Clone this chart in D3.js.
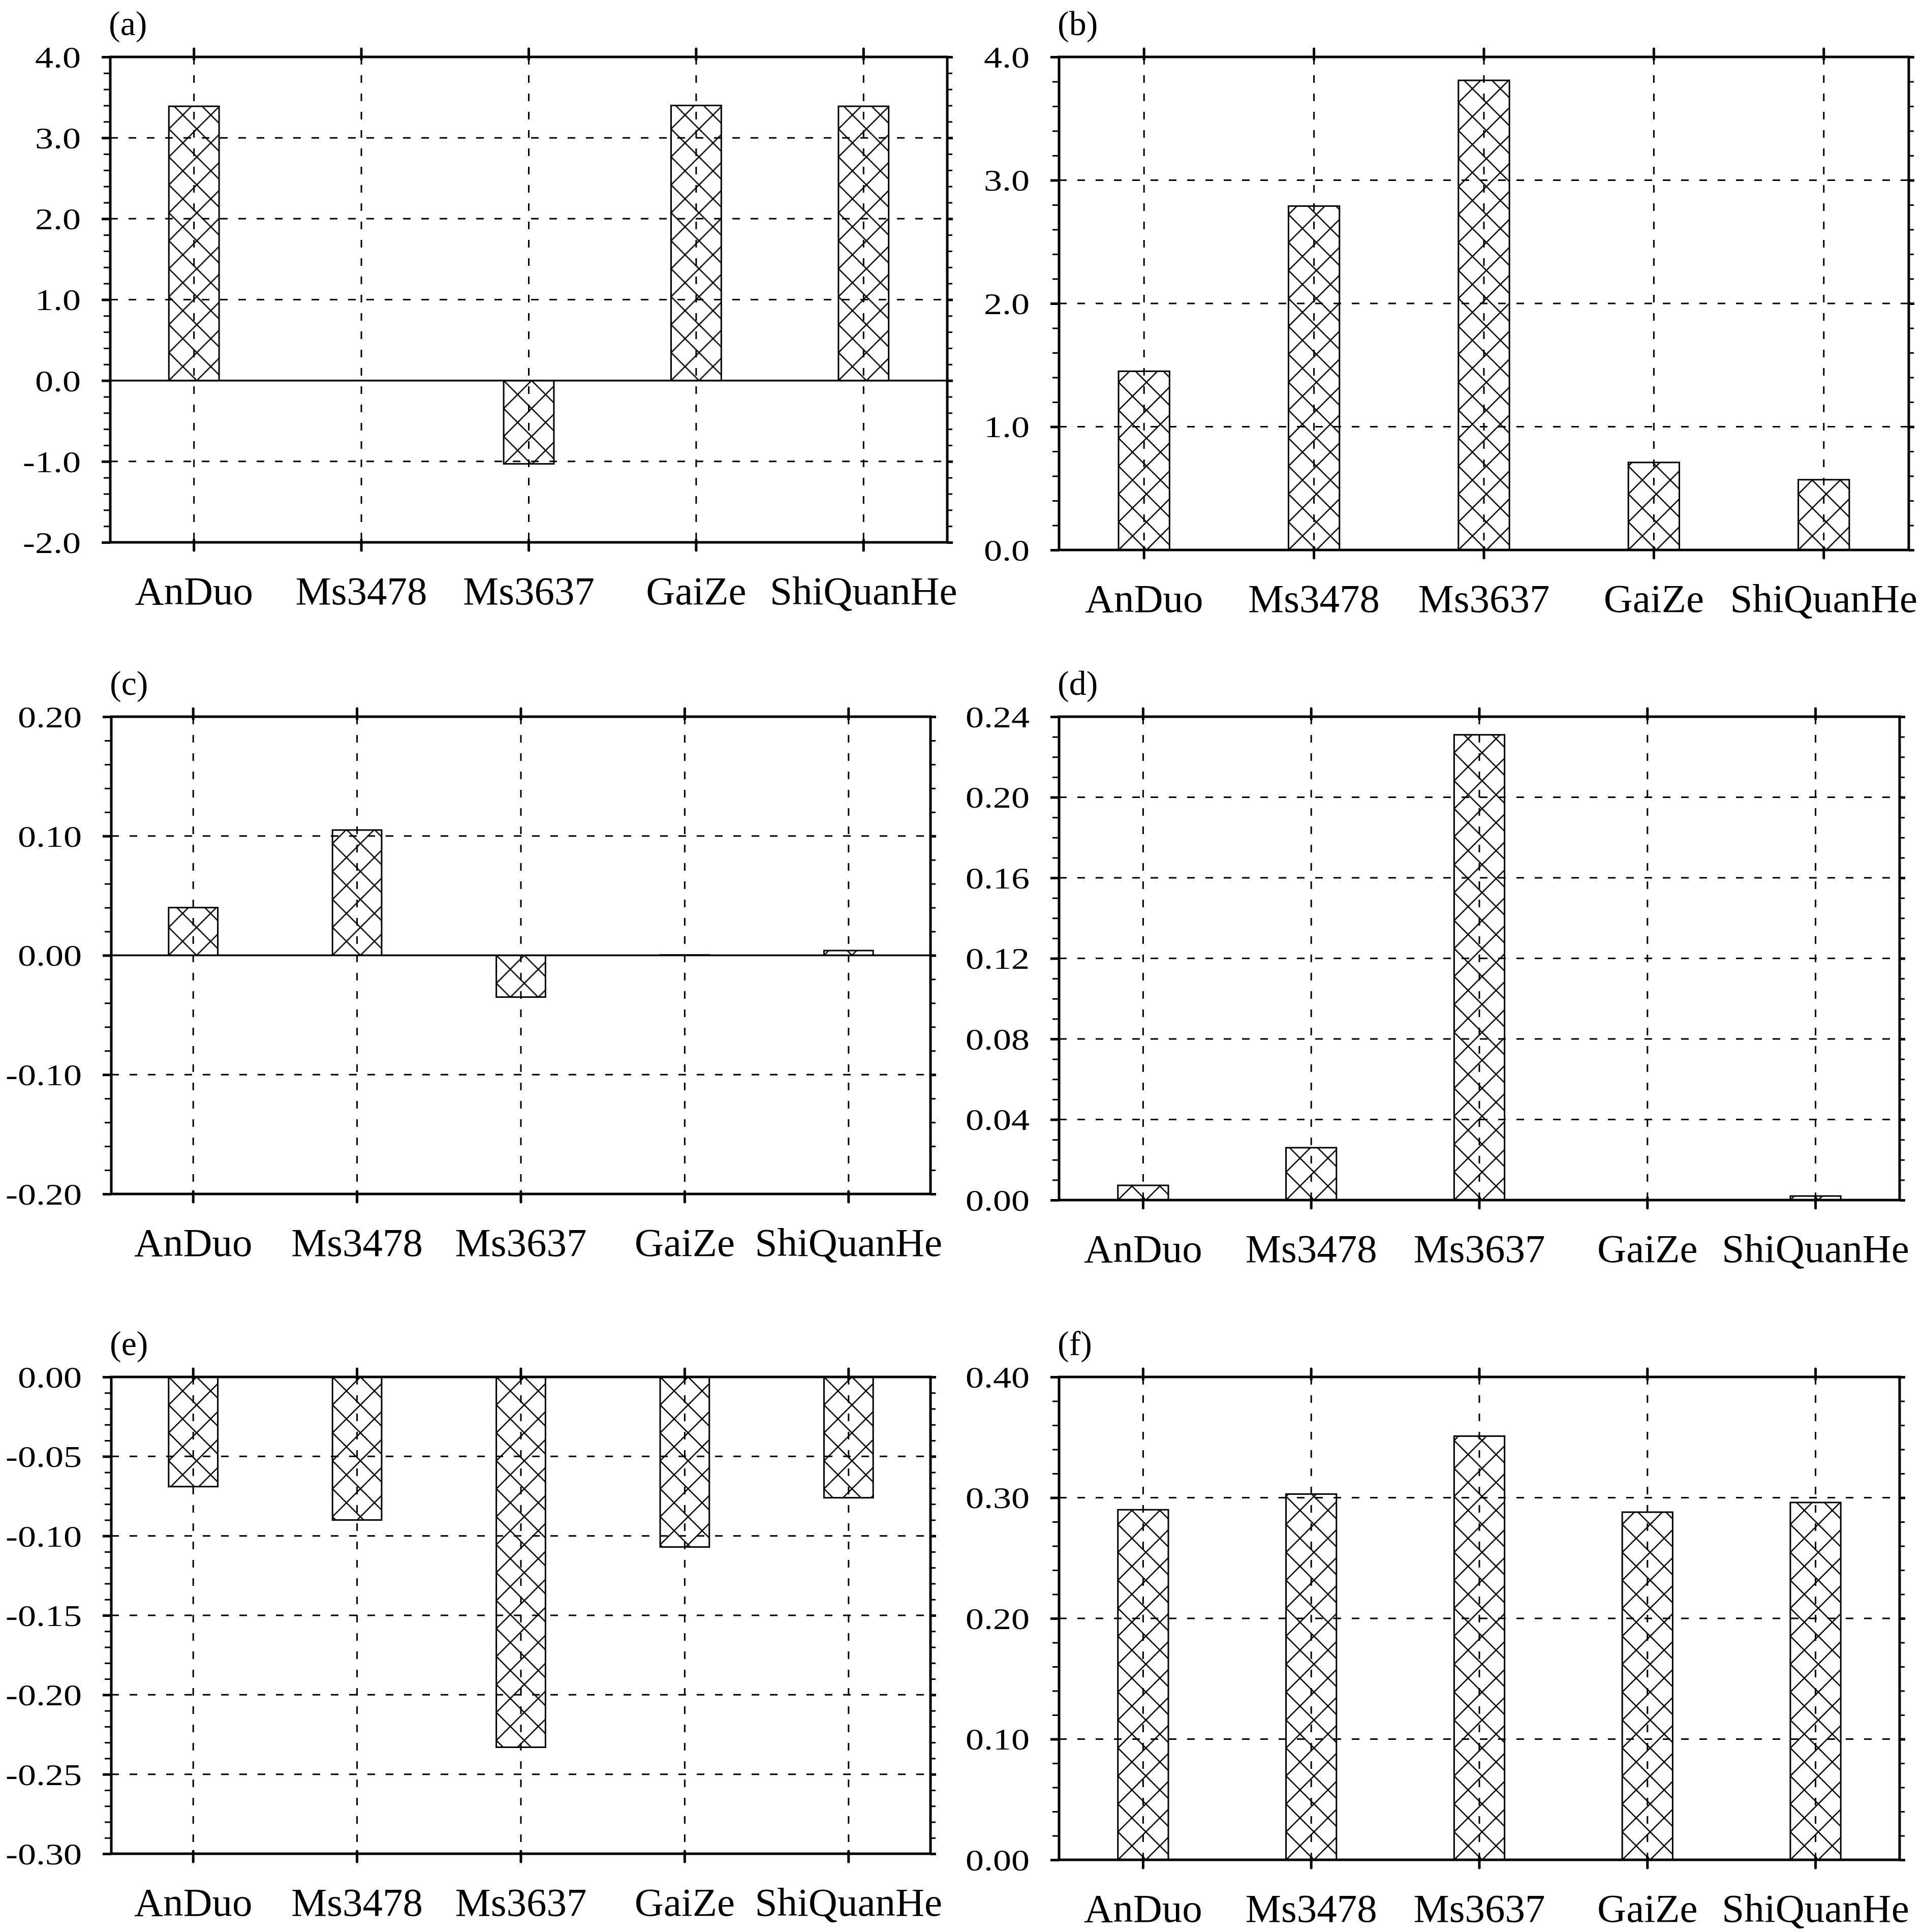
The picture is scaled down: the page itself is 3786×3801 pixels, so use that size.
<!DOCTYPE html>
<html>
<head>
<meta charset="utf-8">
<script src="https://cdn.jsdelivr.net/npm/d3@7"></script>
<style>
  html, body { margin: 0; padding: 0; background: #fff; }
  text { font-family: "Liberation Serif", "Times New Roman", serif; fill: #000; }
</style>
</head>
<body>
<div id="chart"></div>
<script>
// Stations along every x axis
const categories = ["AnDuo", "Ms3478", "Ms3637", "GaiZe", "ShiQuanHe"];

// Bar values
const valuesA = [3.39, 0, -1.03, 3.40, 3.39];
const valuesB = [1.45, 2.79, 3.81, 0.71, 0.57];
const valuesC = [0.040, 0.105, -0.035, 0.0003, 0.004];
const valuesD = [0.0073, 0.026, 0.231, 0, 0.002];
const valuesE = [-0.069, -0.090, -0.233, -0.107, -0.076];
const valuesF = [0.290, 0.303, 0.351, 0.288, 0.296];

// Major y ticks (labelled) per panel
const ticksA = [-2, -1, 0, 1, 2, 3, 4];
const ticksB = [0, 1, 2, 3, 4];
const ticksC = [-0.2, -0.1, 0, 0.1, 0.2];
const ticksD = [0, 0.04, 0.08, 0.12, 0.16, 0.2, 0.24];
const ticksE = [-0.3, -0.25, -0.2, -0.15, -0.1, -0.05, 0];
const ticksF = [0, 0.1, 0.2, 0.3, 0.4];

// Minor tick spacing per panel
const minorA = 0.2, minorB = 0.2, minorC = 0.02, minorD = 0.01, minorE = 0.01, minorF = 0.02;

const panelLabels = ["(a)", "(b)", "(c)", "(d)", "(e)", "(f)"];

const W = 3786, H = 3801;

// hyphen minus like the original, not the unicode minus
const locale = d3.formatLocale({ decimal: ".", thousands: ",", grouping: [3], currency: ["", ""], minus: "-" });

// Panel frames in pixels
const panels = [
    { label: panelLabels[0], values: valuesA, ticks: ticksA, minor: minorA, fmt: ".1f", x0: 217, x1: 1864, y0: 112, y1: 1067 },
    { label: panelLabels[1], values: valuesB, ticks: ticksB, minor: minorB, fmt: ".1f", x0: 2084, x1: 3756, y0: 112, y1: 1082 },
    { label: panelLabels[2], values: valuesC, ticks: ticksC, minor: minorC, fmt: ".2f", x0: 219, x1: 1831, y0: 1410, y1: 2349 },
    { label: panelLabels[3], values: valuesD, ticks: ticksD, minor: minorD, fmt: ".2f", x0: 2084, x1: 3738, y0: 1410, y1: 2361 },
    { label: panelLabels[4], values: valuesE, ticks: ticksE, minor: minorE, fmt: ".2f", x0: 219, x1: 1831, y0: 2709, y1: 3647 },
    { label: panelLabels[5], values: valuesF, ticks: ticksF, minor: minorF, fmt: ".2f", x0: 2084, x1: 3738, y0: 2709, y1: 3659 }
];

let svg = d3.select("#chart")
    .append("svg")
    .attr("width", W)
    .attr("height", H)
    .attr("viewBox", `0 0 ${W} ${H}`);

svg.append("rect").attr("width", W).attr("height", H).attr("fill", "#fff");

let defs = svg.append("defs");

const hatch = 55;
const dash = "15,21";

panels.forEach((p, pi) => drawPanel(p, pi));

function drawPanel(p, pi) {
    let lo = d3.min(p.ticks), hi = d3.max(p.ticks);

    let xScale = d3.scaleBand()
        .domain(categories)
        .range([p.x0, p.x1]);

    let yScale = d3.scaleLinear()
        .domain([lo, hi])
        .range([p.y1, p.y0]);

    let cx = d => xScale(d) + xScale.bandwidth() / 2;
    let g = svg.append("g");

    /* Grid */
    g.selectAll(".vgrid")
        .data(categories)
        .join("line")
        .attr("x1", cx).attr("x2", cx)
        .attr("y1", p.y0).attr("y2", p.y1)
        .attr("stroke", "#000")
        .attr("stroke-width", 3)
        .attr("stroke-dasharray", dash);

    g.selectAll(".hgrid")
        .data(p.ticks.filter(t => t !== lo && t !== hi && t !== 0))
        .join("line")
        .attr("x1", p.x0).attr("x2", p.x1)
        .attr("y1", d => yScale(d)).attr("y2", d => yScale(d))
        .attr("stroke", "#000")
        .attr("stroke-width", 3)
        .attr("stroke-dasharray", dash);

    // Solid reference line at zero
    if (lo < 0 && hi > 0) {
        g.append("line")
            .attr("x1", p.x0).attr("x2", p.x1)
            .attr("y1", yScale(0)).attr("y2", yScale(0))
            .attr("stroke", "#000")
            .attr("stroke-width", 3.5);
    }

    /* Bars with cross hatching anchored at bar base */
    let bw = xScale.bandwidth() * 0.3;
    let y0 = yScale(0);

    p.values.forEach((v, i) => {
        let left = cx(categories[i]) - bw / 2;
        let id = `hatch-${pi}-${i}`;
        let pat = defs.append("pattern")
            .attr("id", id)
            .attr("patternUnits", "userSpaceOnUse")
            .attr("width", hatch)
            .attr("height", hatch)
            .attr("patternTransform", `translate(${left}, ${y0})`);
        pat.append("path")
            .attr("d", `M0,0L${hatch},${hatch}M0,${hatch}L${hatch},0` +
                `M-5,-5L5,5M${hatch - 5},${hatch - 5}L${hatch + 5},${hatch + 5}` +
                `M-5,${hatch + 5}L5,${hatch - 5}M${hatch - 5},5L${hatch + 5},-5`)
            .attr("stroke", "#000")
            .attr("stroke-width", 2.6)
            .attr("fill", "none");
    });

    g.selectAll(".bar")
        .data(p.values)
        .join("rect")
        .attr("x", (d, i) => cx(categories[i]) - bw / 2)
        .attr("y", d => yScale(Math.max(0, d)))
        .attr("width", bw)
        .attr("height", d => Math.abs(yScale(d) - y0))
        .attr("fill", (d, i) => `url(#hatch-${pi}-${i})`)
        .attr("stroke", "#000")
        .attr("stroke-width", 3);

    /* Frame */
    g.append("rect")
        .attr("x", p.x0).attr("y", p.y0)
        .attr("width", p.x1 - p.x0).attr("height", p.y1 - p.y0)
        .attr("fill", "none")
        .attr("stroke", "#000")
        .attr("stroke-width", 5);

    /* Left axis: minor then major ticks */
    let nMinor = Math.round((hi - lo) / p.minor);
    let minorTicks = d3.range(nMinor + 1)
        .map(k => lo + k * p.minor)
        .filter(t => !p.ticks.some(m => Math.abs(m - t) < p.minor / 10));

    g.append("g")
        .attr("transform", `translate(${p.x0}, 0)`)
        .call(d3.axisLeft(yScale).tickValues(minorTicks).tickSize(13).tickFormat(""))
        .call(a => a.select(".domain").remove())
        .call(a => a.selectAll("line").attr("stroke-width", 3));

    g.append("g")
        .attr("transform", `translate(${p.x1}, 0)`)
        .call(d3.axisRight(yScale).tickValues(minorTicks).tickSize(10).tickFormat(""))
        .call(a => a.select(".domain").remove())
        .call(a => a.selectAll("line").attr("stroke-width", 3));

    let fmt = locale.format(p.fmt);
    g.append("g")
        .attr("transform", `translate(${p.x0}, 0)`)
        .call(d3.axisLeft(yScale).tickValues(p.ticks).tickSize(17).tickFormat(fmt))
        .call(a => a.select(".domain").remove())
        .call(a => a.selectAll("line").attr("stroke-width", 5))
        .call(a => a.selectAll("text")
            .attr("x", -58 / 1.2)
            .attr("dy", "0.34em")
            .attr("transform", "scale(1.2, 1)")
            .attr("font-size", 60)
            .attr("font-family", null));

    g.append("g")
        .attr("transform", `translate(${p.x1}, 0)`)
        .call(d3.axisRight(yScale).tickValues(p.ticks).tickSize(11).tickFormat(""))
        .call(a => a.select(".domain").remove())
        .call(a => a.selectAll("line").attr("stroke-width", 5));

    /* Category ticks on top and bottom, labels below */
    g.append("g")
        .attr("transform", `translate(0, ${p.y0})`)
        .call(d3.axisTop(xScale).tickSize(16).tickFormat(""))
        .call(a => a.select(".domain").remove())
        .call(a => a.selectAll("line")
            .attr("y1", 5)
            .attr("stroke-width", 5)
            .attr("stroke-linecap", "round"));

    g.append("g")
        .attr("transform", `translate(0, ${p.y1})`)
        .call(d3.axisBottom(xScale).tickSize(16))
        .call(a => a.select(".domain").remove())
        .call(a => a.selectAll("line")
            .attr("y1", -5)
            .attr("stroke-width", 5)
            .attr("stroke-linecap", "round"))
        .call(a => a.selectAll("text")
            .attr("y", 122)
            .attr("dy", 0)
            .attr("font-size", 79)
            .attr("font-family", null));

    /* Panel label */
    g.append("text")
        .attr("x", p.x0 - 3)
        .attr("y", p.y0 - 43)
        .attr("font-size", 68)
        .text(p.label);
}
</script>
</body>
</html>
